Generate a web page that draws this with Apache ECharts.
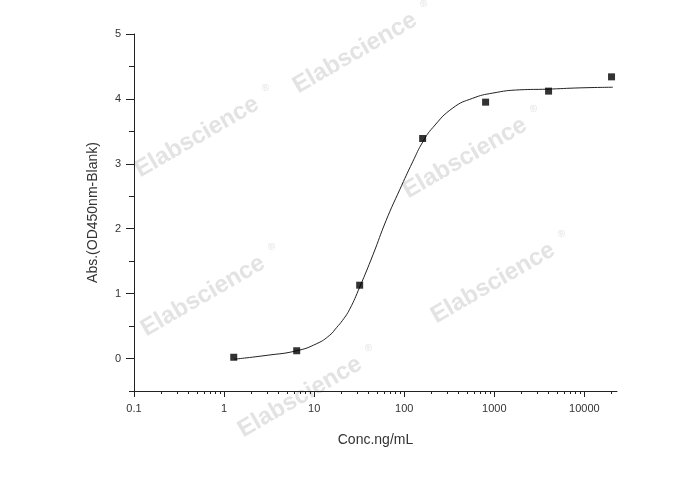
<!DOCTYPE html>
<html><head><meta charset="utf-8">
<script src="https://cdn.jsdelivr.net/npm/echarts@6/dist/echarts.min.js"></script>
<style>html,body{margin:0;padding:0;background:#fff}#c{width:688px;height:490px}</style>
</head><body><div id="c"></div>
<script>
// Measured standard points
const concentrations = [1.28, 6.4, 32, 160, 800, 4000, 20000];
const absorbances = [0.02, 0.12, 1.13, 3.39, 3.95, 4.12, 4.34];
// Fitted curve
const curveConc = [1.3, 3, 6.4, 10.7, 14.9, 17.8, 20.7, 24.8, 32, 45, 63, 89, 124, 161, 208, 346, 576, 962, 1920, 3830, 8900, 20700];
const curveAbs = [-0.01, 0.05, 0.12, 0.23, 0.36, 0.48, 0.59, 0.76, 1.1, 1.6, 2.13, 2.6, 3.03, 3.34, 3.56, 3.86, 4.01, 4.09, 4.14, 4.15, 4.17, 4.18];
// Ticks
const xMajorTicks = [0.1, 1, 10, 100, 1000, 10000];
const xMinorTicks = [0.2, 0.3, 0.4, 0.5, 0.6, 0.7, 0.8, 0.9, 2, 3, 4, 5, 6, 7, 8, 9, 20, 30, 40, 50, 60, 70, 80, 90, 200, 300, 400, 500, 600, 700, 800, 900, 2000, 3000, 4000, 5000, 6000, 7000, 8000, 9000, 20000];
const yMajorTicks = [0, 1, 2, 3, 4, 5];
const yMinorTicks = [-0.5, 0.5, 1.5, 2.5, 3.5, 4.5];
const xName = 'Conc.ng/mL';
const yName = 'Abs.(OD450nm-Blank)';
const watermarkText = 'Elabscience';
const watermarkCenters = [[355, 53], [197, 137], [465, 158], [203, 296], [493, 283], [300, 397]];

const FONT = 'Liberation Sans, Arial, sans-serif';
const axisColor = '#222';
const textColor = '#333';

const graphics = [];
watermarkCenters.forEach(([cx, cy]) => {
  const a = Math.PI / 6;
  graphics.push({
    type: 'text', x: cx, y: cy, rotation: a, z: 0, silent: true,
    style: { text: watermarkText, fontSize: 24, fontWeight: 'bold', fontFamily: FONT,
      fill: '#e3e3e3', align: 'center', verticalAlign: 'middle' }
  });
  const along = 84, up = 8;
  graphics.push({
    type: 'text', x: cx + along * Math.cos(a) - up * Math.sin(a), y: cy - along * Math.sin(a) - up * Math.cos(a),
    rotation: a, z: 0, silent: true,
    style: { text: '®', fontSize: 10, fontFamily: FONT, fill: '#e3e3e3', align: 'center', verticalAlign: 'middle' }
  });
});

const fmt = v => String(+Number(v).toPrecision(6));

const chart = echarts.init(document.getElementById('c'), null, { renderer: 'canvas' });
chart.setOption({
  backgroundColor: '#fff',
  animation: false,
  graphic: graphics,
  grid: { left: 134, top: 34, width: 483, height: 357 },
  xAxis: [
    {
      type: 'log', logBase: 10, min: 0.1, max: 23000, position: 'bottom',
      axisLine: { show: true, onZero: false, lineStyle: { color: axisColor, width: 1 } },
      axisTick: { show: true, customValues: xMajorTicks, length: 6, lineStyle: { color: axisColor } },
      axisLabel: { customValues: xMajorTicks, formatter: fmt, margin: 12, fontSize: 11, color: textColor, fontFamily: FONT },
      splitLine: { show: false }, minorTick: { show: false },
      name: xName, nameLocation: 'middle', nameGap: 42,
      nameTextStyle: { fontSize: 14, color: textColor, fontFamily: FONT }
    },
    {
      type: 'log', logBase: 10, min: 0.1, max: 23000, position: 'bottom', offset: 0,
      axisLine: { show: false, onZero: false },
      axisTick: { show: true, customValues: xMinorTicks, length: 3, lineStyle: { color: axisColor } },
      axisLabel: { show: false }, splitLine: { show: false }
    }
  ],
  yAxis: [
    {
      type: 'value', min: -0.5, max: 5, interval: 0.5, position: 'left',
      axisLine: { show: true, onZero: false, lineStyle: { color: axisColor, width: 1 } },
      axisTick: { show: true, customValues: yMajorTicks, length: 8, lineStyle: { color: axisColor } },
      axisLabel: { customValues: yMajorTicks, margin: 13, fontSize: 11, color: textColor, fontFamily: FONT },
      splitLine: { show: false },
      name: yName, nameLocation: 'middle', nameGap: 34, nameRotate: 90,
      nameTextStyle: { fontSize: 14, color: textColor, fontFamily: FONT }
    },
    {
      type: 'value', min: -0.5, max: 5, interval: 0.5, position: 'left', offset: 0,
      axisLine: { show: false, onZero: false },
      axisTick: { show: true, customValues: yMinorTicks, length: 5, lineStyle: { color: axisColor } },
      axisLabel: { show: false }, splitLine: { show: false }
    }
  ],
  series: [
    {
      type: 'line', xAxisIndex: 0, yAxisIndex: 0, smooth: true, showSymbol: false, symbol: 'none',
      data: curveConc.map((c, i) => [c, curveAbs[i]]),
      lineStyle: { color: '#222', width: 1 }, z: 3
    },
    {
      type: 'scatter', xAxisIndex: 0, yAxisIndex: 0, symbol: 'rect', symbolSize: 7,
      data: concentrations.map((c, i) => [c, absorbances[i]]),
      itemStyle: { color: '#000' }, z: 4
    }
  ]
});
</script>
</body></html>
